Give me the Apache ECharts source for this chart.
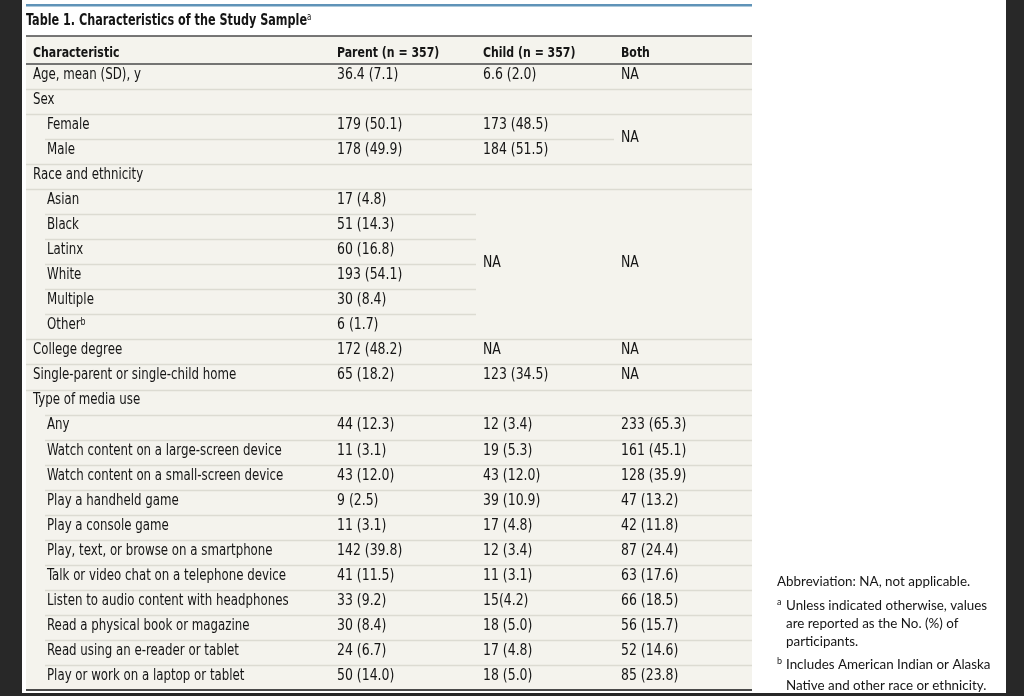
<!DOCTYPE html>
<html><head><meta charset="utf-8">
<script src="https://cdn.jsdelivr.net/npm/echarts@6/dist/echarts.min.js"></script>
<style>html,body{margin:0;padding:0;background:#fff;}#c{width:1024px;height:696px;}</style>
</head><body><div id="c"></div>
<script>
// ---- data ----
const titleText = 'Table 1. Characteristics of the Study Sample';
const titleNote = 'a';
const headers = ['Characteristic', 'Parent (n = 357)', 'Child (n = 357)', 'Both'];
const characteristics = [
  'Age, mean (SD), y', 'Sex', 'Female', 'Male', 'Race and ethnicity',
  'Asian', 'Black', 'Latinx', 'White', 'Multiple', 'Other',
  'College degree', 'Single-parent or single-child home', 'Type of media use',
  'Any', 'Watch content on a large-screen device', 'Watch content on a small-screen device',
  'Play a handheld game', 'Play a console game', 'Play, text, or browse on a smartphone',
  'Talk or video chat on a telephone device', 'Listen to audio content with headphones',
  'Read a physical book or magazine', 'Read using an e-reader or tablet',
  'Play or work on a laptop or tablet'
];
const rowNotes = ['', '', '', '', '', '', '', '', '', '', 'b', '', '', '', '', '', '', '', '', '', '', '', '', '', ''];
const indented = [0,0,1,1,0,1,1,1,1,1,1,0,0,0,1,1,1,1,1,1,1,1,1,1,1];
const parentValues = [
  '36.4 (7.1)', '', '179 (50.1)', '178 (49.9)', '',
  '17 (4.8)', '51 (14.3)', '60 (16.8)', '193 (54.1)', '30 (8.4)', '6 (1.7)',
  '172 (48.2)', '65 (18.2)', '',
  '44 (12.3)', '11 (3.1)', '43 (12.0)', '9 (2.5)', '11 (3.1)', '142 (39.8)',
  '41 (11.5)', '33 (9.2)', '30 (8.4)', '24 (6.7)', '50 (14.0)'
];
const childValues = [
  '6.6 (2.0)', '', '173 (48.5)', '184 (51.5)', '',
  'NA', '', '', '', '', '',
  'NA', '123 (34.5)', '',
  '12 (3.4)', '19 (5.3)', '43 (12.0)', '39 (10.9)', '17 (4.8)', '12 (3.4)',
  '11 (3.1)', '15(4.2)', '18 (5.0)', '17 (4.8)', '18 (5.0)'
];
const bothValues = [
  'NA', '', 'NA', '', '',
  'NA', '', '', '', '', '',
  'NA', 'NA', '',
  '233 (65.3)', '161 (45.1)', '128 (35.9)', '47 (13.2)', '42 (11.8)', '87 (24.4)',
  '63 (17.6)', '66 (18.5)', '56 (15.7)', '52 (14.6)', '85 (23.8)'
];
// rows a merged cell covers (1 = single row, 0 = covered by cell above)
const childSpans = [1,1,1,1,1, 6,0,0,0,0,0, 1,1,1, 1,1,1,1,1,1,1,1,1,1,1];
const bothSpans  = [1,1,2,0,1, 6,0,0,0,0,0, 1,1,1, 1,1,1,1,1,1,1,1,1,1,1];
const footnoteAbbrev = 'Abbreviation: NA, not applicable.';
const footnoteA = ['Unless indicated otherwise, values', 'are reported as the No. (%) of', 'participants.'];
const footnoteB = ['Includes American Indian or Alaska', 'Native and other race or ethnicity.'];

// ---- layout / style ----
const TL = 26, TR = 752, TW = TR - TL;
const colLeft = [0, 304, 450, 588];   // relative to table left
const PAD = 7, INDENT = 14;
const ruleInsetBelow = [0,0,1,0,0,1,1,1,1,1,0,0,0,1,1,1,1,1,1,1,1,1,1,1,0];
const FONT = '"Liberation Sans Narrow", "DejaVu Sans Condensed", "Noto Sans", sans-serif';
const FOOT_FONT = 'Lato, "Open Sans", sans-serif';
const TXT = '#151515';
const RULE = '#dcdbd2';
const FS = 15;
const LABEL_SX = 0.875, VALUE_SX = 0.925, HEAD_SX = 0.84, TITLE_SX = 0.78;

function covered(spans, i) { // does a merged cell in this column cross the boundary below row i?
  for (let k = i; k >= 0; k--) {
    if (spans[k] > 0) return k + spans[k] - 1 > i;
  }
  return false;
}

const chart = echarts.init(document.getElementById('c'));

function renderItem(params, api) {
  const i = params.dataIndex;
  const c = api.coord([0, i]);
  const h = api.size([0, 1])[1];
  const y = c[1];
  const xAt = v => api.coord([v, i])[0];
  const kids = [];
  const base = { x: 0, y: 0, fill: TXT, fontSize: FS, fontFamily: FONT, align: 'left', verticalAlign: 'middle' };
  const lx = xAt(colLeft[0] + PAD + (indented[i] ? INDENT : 0));
  kids.push({ type: 'text', x: lx, y: y - 1.5, scaleX: LABEL_SX, style: Object.assign({}, base, {
    text: rowNotes[i] ? '{n|' + characteristics[i] + '}{s|' + rowNotes[i] + '}' : characteristics[i],
    rich: { n: { fontSize: FS, fontFamily: FONT, fill: TXT }, s: { fontSize: 10, fontFamily: FONT, fill: TXT, verticalAlign: 'top', lineHeight: 16 } }
  }) });
  const cols = [[parentValues, null], [childValues, childSpans], [bothValues, bothSpans]];
  cols.forEach((col, k) => {
    const vals = col[0], spans = col[1];
    const span = spans ? spans[i] : 1;
    if (!span || !vals[i]) return;
    kids.push({ type: 'text', x: xAt(colLeft[k + 1] + PAD), y: y - 1.5 + (span - 1) * h / 2, scaleX: VALUE_SX,
      style: Object.assign({}, base, { text: vals[i] }) });
  });
  if (i < characteristics.length - 1) {
    let end = TW;
    if (covered(childSpans, i)) end = colLeft[2];
    else if (covered(bothSpans, i)) end = colLeft[3];
    const start = ruleInsetBelow[i] ? INDENT + 5 : 0;
    const yb = Math.round(y + h / 2) + 0.5;
    kids.push({ type: 'line', shape: { x1: xAt(start), y1: yb, x2: xAt(end), y2: yb }, style: { stroke: RULE, lineWidth: 1.5 } });
  }
  return { type: 'group', children: kids };
}

const graphics = [
  { type: 'rect', z: -10, shape: { x: TL, y: 36, width: TW, height: 654 }, style: { fill: '#f4f3ed' } },
  { type: 'rect', z: 10, shape: { x: 0, y: 0, width: 22, height: 696 }, style: { fill: '#282828' } },
  { type: 'rect', z: 10, shape: { x: 1006, y: 0, width: 18, height: 696 }, style: { fill: '#282828' } },
  { type: 'rect', z: 10, shape: { x: 0, y: 693, width: 1024, height: 3 }, style: { fill: '#282828' } },
  { type: 'rect', z: 5, shape: { x: TL, y: 4, width: TW, height: 2.5 }, style: { fill: '#5f93b8' } },
  { type: 'line', z: 5, shape: { x1: TL, y1: 36, x2: TR, y2: 36 }, style: { stroke: '#4a4a4a', lineWidth: 1.6 } },
  { type: 'line', z: 5, shape: { x1: TL, y1: 64, x2: TR, y2: 64 }, style: { stroke: '#4a4a4a', lineWidth: 1.6 } },
  { type: 'line', z: 5, shape: { x1: TL, y1: 690, x2: TR, y2: 690 }, style: { stroke: '#4a4a4a', lineWidth: 2 } },
  { type: 'text', z: 5, x: TL, y: 21, scaleX: TITLE_SX, style: {
      x: 0, y: 0,
      text: '{t|' + titleText + '}{s|' + titleNote + '}', align: 'left', verticalAlign: 'middle',
      rich: { t: { fontSize: 16, fontWeight: 'bold', fontFamily: FONT, fill: TXT }, s: { fontSize: 10, fontFamily: FONT, fill: TXT, verticalAlign: 'top', lineHeight: 17 } }
  } }
];
headers.forEach((hd, k) => {
  graphics.push({ type: 'text', z: 5, x: TL + colLeft[k] + PAD, y: 53, scaleX: HEAD_SX, style: {
    x: 0, y: 0, text: hd, align: 'left', verticalAlign: 'middle', fill: TXT, fontSize: 14.5, fontWeight: 'bold', fontFamily: FONT } });
});
const fx = 777, fx2 = 786;
const footBase = { align: 'left', verticalAlign: 'middle', fill: TXT, fontSize: 13.4, fontFamily: FOOT_FONT };
graphics.push({ type: 'text', z: 5, x: fx, y: 582, style: Object.assign({}, footBase, { text: footnoteAbbrev }) });
graphics.push({ type: 'text', z: 5, x: fx, y: 602, style: Object.assign({}, footBase, { text: 'a', fontSize: 9 }) });
footnoteA.forEach((t, j) => graphics.push({ type: 'text', z: 5, x: fx2, y: 606 + j * 18, style: Object.assign({}, footBase, { text: t }) }));
graphics.push({ type: 'text', z: 5, x: fx, y: 661, style: Object.assign({}, footBase, { text: 'b', fontSize: 9 }) });
footnoteB.forEach((t, j) => graphics.push({ type: 'text', z: 5, x: fx2, y: 665 + j * 21, style: Object.assign({}, footBase, { text: t }) }));

chart.setOption({
  animation: false,
  backgroundColor: '#ffffff',
  grid: { left: TL, top: 64, width: TW, height: 626 },
  xAxis: { type: 'value', min: 0, max: TW, show: false },
  yAxis: { type: 'category', data: characteristics, inverse: true, show: false },
  graphic: graphics,
  series: [{
    type: 'custom', renderItem: renderItem, clip: false,
    encode: { x: 0, y: 1 },
    data: characteristics.map((c, i) => [0, i])
  }]
});
</script>
</body></html>
